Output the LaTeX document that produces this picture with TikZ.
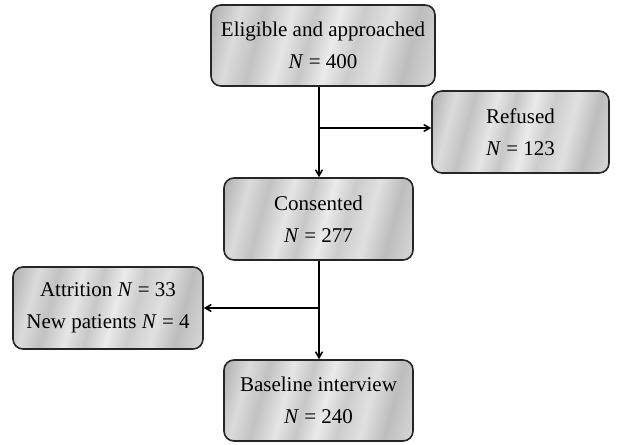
\documentclass[tikz,border=0pt]{standalone}
\usepackage{fontspec}
\setmainfont{Liberation Serif}
\usepackage{tikz}
\usetikzlibrary{arrows}

\pgfdeclarehorizontalshading{metal}{100bp}{color(0bp)=(black!45); color(8bp)=(black!42); color(14bp)=(black!25);
  color(20bp)=(black!30); color(27bp)=(black!14); color(33bp)=(black!24); color(40bp)=(black!10);
  color(46bp)=(black!22); color(52bp)=(black!8); color(58bp)=(black!20); color(65bp)=(black!12);
  color(72bp)=(black!26); color(80bp)=(black!16); color(88bp)=(black!30); color(100bp)=(black!42)}

\newcommand{\nn}{\textit{N}}

\begin{document}
\begin{tikzpicture}[x=1pt, y=-1pt, line width=1.6pt, >=angle 60,
  main/.style = {draw=black!85, rounded corners=10pt, shading=metal, shading angle=-15,
    align=center, font=\fontsize{21}{32}\selectfont, inner sep=0pt},
  link/.style = {line width=1.6pt}]
\useasboundingbox (0,0) rectangle (617,444);
\node[main, minimum width=224pt, minimum height=81pt] (top) at (323,45.5) {Eligible and approached\\\nn{} = 400};
\node[main, minimum width=177pt, minimum height=82pt] (refused) at (520.5,132) {Refused\\\nn{} = 123};
\node[main, minimum width=189pt, minimum height=82pt] (consented) at (318.5,219) {Consented\\\nn{} = 277};
\node[main, minimum width=190pt, minimum height=82pt] (attrition) at (108,308) {Attrition \nn{} = 33\\New patients \nn{} = 4};
\node[main, minimum width=189pt, minimum height=81pt] (baseline) at (318.5,400.5) {Baseline interview\\\nn{} = 240};
\coordinate (b1) at (319,128);
\coordinate (b2) at (319,308);
\draw[link,->] (top.south -| b1) -- (consented.north -| b1);
\draw[link,->] (b1) -- (b1 -| refused.west);
\draw[link,->] (consented.south -| b2) -- (baseline.north -| b2);
\draw[link,->] (b2) -- (attrition.east);
\end{tikzpicture}
\end{document}
